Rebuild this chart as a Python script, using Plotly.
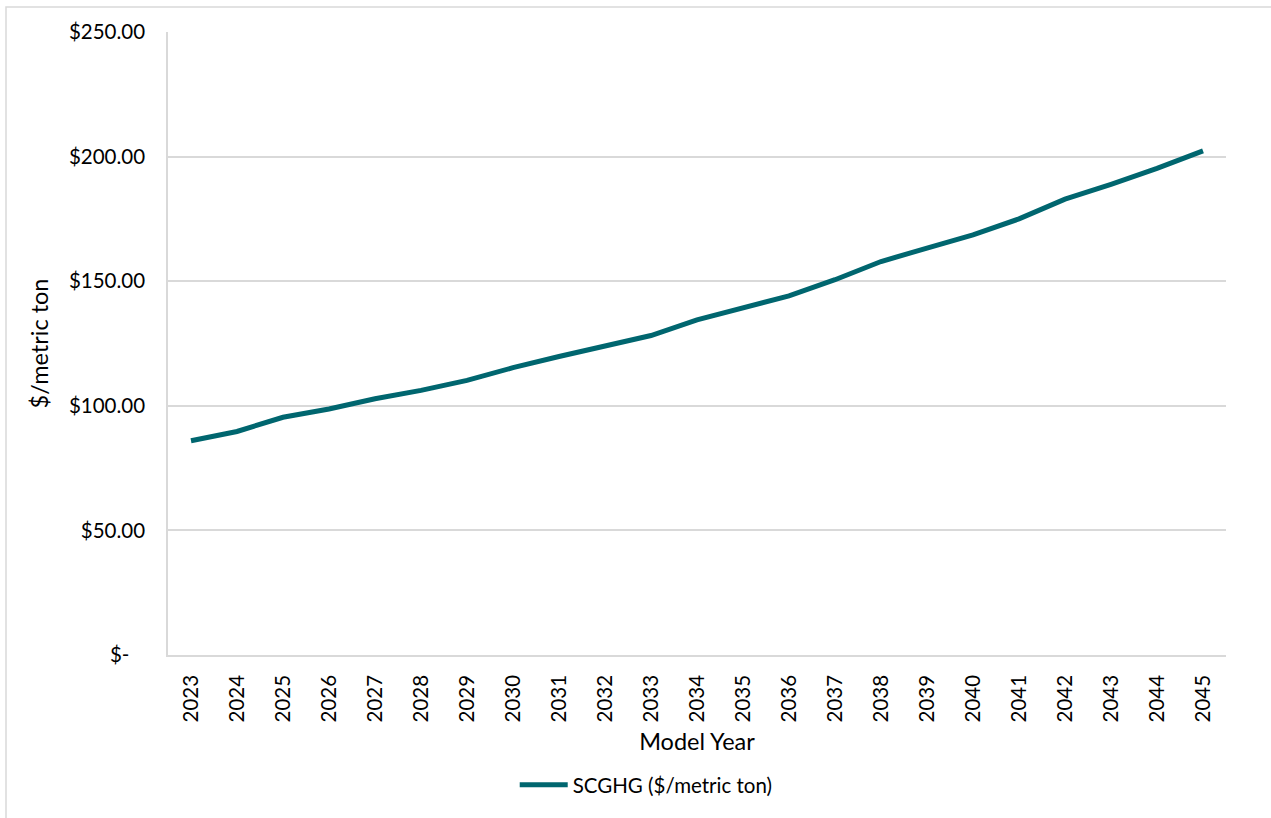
import plotly.graph_objects as go

# Social cost of greenhouse gases by model year
years = [str(y) for y in range(2023, 2046)]
scghg = [86.0, 89.7, 95.4, 98.7, 102.8, 106.2, 110.2, 115.3, 119.8, 124.1, 128.2,
         134.5, 139.2, 144.1, 150.6, 157.9, 163.3, 168.6, 175.0, 182.9, 188.9,
         195.3, 202.3]

y_tickvals = [0, 50, 100, 150, 200, 250]
y_ticktext = ["$-\u00a0\u00a0\u00a0", "$50.00", "$100.00", "$150.00", "$200.00", "$250.00"]

W, H = 1271, 818
L, R, T, B = 168, 1226, 32, 655

FONT = "Lato, 'Open Sans', sans-serif"
GRID = "#d9d9d9"
TEAL = "#00666f"

fig = go.Figure()
fig.add_trace(go.Scatter(
    x=years, y=scghg, mode="lines", name="SCGHG ($/metric ton)",
    line=dict(color=TEAL, width=5),
))

pw, ph = R - L, B - T
fig.add_shape(
    type="rect", xref="paper", yref="paper",
    x0=(6 - L) / pw, x1=(1300 - L) / pw,
    y0=(B - 900) / ph, y1=(B - 7) / ph,
    line=dict(color=GRID, width=1.5), fillcolor="rgba(0,0,0,0)", layer="below",
)

fig.update_layout(
    width=W, height=H,
    margin=dict(l=L, r=W - R, t=T, b=H - B),
    paper_bgcolor="white", plot_bgcolor="white",
    font=dict(family=FONT, color="#000000", size=20),
    showlegend=True,
    legend=dict(orientation="h", x=0.452, xanchor="center", y=(B - 785) / ph,
                yanchor="middle", font=dict(size=20.5), itemwidth=48),
    xaxis=dict(
        type="category", tickangle=-90, showgrid=False,
        showline=True, linecolor=GRID, linewidth=1.5,
        ticks="", tickfont=dict(size=20.5), ticklabelstandoff=10,
        title=dict(text="Model Year", font=dict(size=23.5), standoff=12),
        range=[-0.5, len(years) - 0.5],
    ),
    yaxis=dict(
        range=[0, 250], tickvals=y_tickvals, ticktext=y_ticktext,
        showgrid=True, gridcolor=GRID, gridwidth=1.5,
        showline=True, linecolor=GRID, linewidth=1.5,
        zeroline=False, ticks="", ticklabelstandoff=17,
        tickfont=dict(size=20.5),
        title=dict(text="$/metric ton", font=dict(size=23.5), standoff=14),
    ),
)

fig.write_html("out.html")
